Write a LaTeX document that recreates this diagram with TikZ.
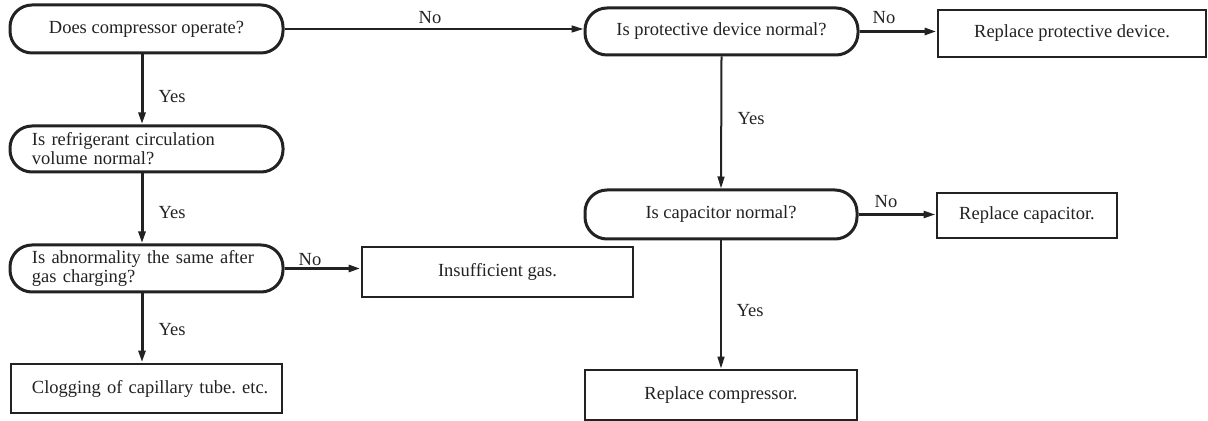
\documentclass[tikz,border=0pt]{standalone}
\usepackage{fontspec}
\setmainfont{Liberation Serif}
\usetikzlibrary{arrows.meta}
\definecolor{ink}{HTML}{222222}
\frenchspacing
\begin{document}
\begin{tikzpicture}[x=0.5pt,y=-0.5pt,
  every node/.style={font=\fontsize{9.25pt}{9.6pt}\selectfont, text=ink},
  decision/.style={draw=ink, line width=1.5pt, rounded corners=11pt, inner sep=0pt,
    minimum width=136.5pt},
  leftq/.style={text width=114.5pt, align=left},
  action/.style={draw=ink, line width=1.4pt, inner sep=0pt},
  lbl/.style={inner sep=0pt},
  arr/.style={draw=ink, -{Triangle[length=6pt,width=3.4pt]}},
  thinarr/.style={arr, line width=1pt},
  thickarr/.style={arr, line width=1.5pt}
]
\useasboundingbox (0,0) rectangle (1208,421);

% decisions
\node[decision, minimum height=24pt] (A) at (146.5,29) {Does compressor operate?};
\node[decision, leftq, minimum height=23pt] (B) at (146.5,149) {Is refrigerant circulation\\volume normal?};
\node[decision, leftq, minimum height=23.5pt] (C) at (146.5,268.5) {Is abnormality the same after\\gas charging?};
\node[decision, minimum height=23.5pt] (F) at (721.5,31.5) {Is protective device normal?};
\node[decision, minimum width=136pt, minimum height=24.5pt] (H) at (721,214.5) {Is capacitor normal?};

% actions
\node[action, minimum width=135.5pt, minimum height=25pt] (D) at (497.5,272) {Insufficient gas.};
\node[action, leftq, minimum width=135.5pt, minimum height=24.5pt] (E) at (146.5,388.5) {\mbox{Clogging of capillary tube. etc.}};
\node[action, minimum width=134pt, minimum height=23.5pt] (G) at (1072,33.5) {Replace protective device.};
\node[action, minimum width=90pt, minimum height=22.5pt] (I) at (1027,215.5) {Replace capacitor.};
\node[action, minimum width=136pt, minimum height=25pt] (J) at (721,395) {Replace compressor.};

% column coordinate for left vertical connectors
\coordinate (xl) at (142,0);

% connectors
\draw[thinarr] (A.east) -- (A.east -| F.west);
\draw[thickarr] (A.south -| xl) -- (B.north -| xl);
\draw[thickarr] (B.south -| xl) -- (C.north -| xl);
\draw[thickarr] (C.south -| xl) -- (E.north -| xl);
\draw[thickarr] (C.east) -- (C.east -| D.west);
\draw[thickarr] (F.east) -- (F.east -| G.west);
\draw[thinarr] (F.south) -- (H.north);
\draw[thickarr, line width=1.25pt] (H.east) -- (H.east -| I.west);
\draw[thinarr] (H.south) -- (J.north);

% labels
\node[lbl] (nAF) at (430,18) {No};
\node[lbl] (yAB) at (172,97) {Yes};
\node[lbl] (yBC) at (172,213) {Yes};
\node[lbl] (yCE) at (172,330) {Yes};
\node[lbl] (nCD) at (310,260) {No};
\node[lbl] (nFG) at (884,18) {No};
\node[lbl] (yFH) at (751,119) {Yes};
\node[lbl] (nHI) at (886,202) {No};
\node[lbl] (yHJ) at (750,311) {Yes};
\end{tikzpicture}
\end{document}
